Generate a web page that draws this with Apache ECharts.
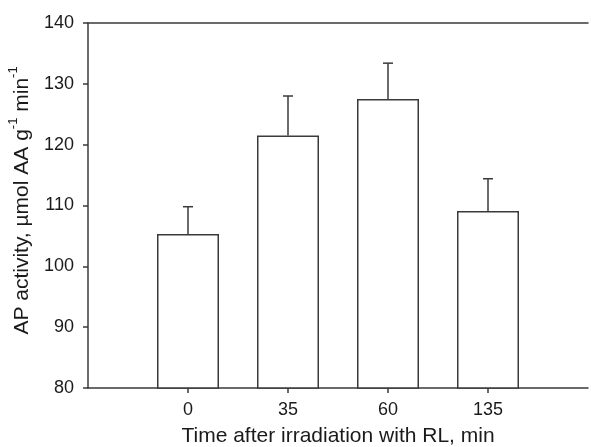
<!DOCTYPE html>
<html>
<head>
<meta charset="utf-8">
<script src="https://cdn.jsdelivr.net/npm/echarts@6/dist/echarts.min.js"></script>
<style>html,body{margin:0;padding:0;background:#fff}#c{width:591px;height:447px}</style>
</head>
<body>
<div id="c"></div>
<script>
var categories = ['0', '35', '60', '135'];
var means = [105.3, 121.5, 127.5, 109.1];
var errors = [4.5, 6.5, 5.9, 5.3];
var yTicks = [80, 90, 100, 110, 120, 130, 140];

var xData = [''].concat(categories, ['']);
var barData = [null].concat(means, [null]);
var errData = means.map(function (m, i) { return [i + 1, m, errors[i]]; });

var lineColor = '#3a3a3a';
var textColor = '#1a1a1a';
var font = 'Liberation Sans, Arial, sans-serif';

var chart = echarts.init(document.getElementById('c'));
chart.setOption({
  animation: false,
  grid: { left: 88, top: 23, right: 3, bottom: 59, containLabel: false, outerBoundsMode: 'none' },
  xAxis: [{
    type: 'category',
    data: xData,
    boundaryGap: false,
    axisLine: { lineStyle: { color: lineColor, width: 1.5 } },
    axisTick: { length: 5, lineStyle: { color: lineColor, width: 1.5 },
      interval: function (i, v) { return v !== ''; } },
    axisLabel: { color: textColor, fontSize: 18, fontFamily: font, margin: 13,
      interval: function (i, v) { return v !== ''; } },
    name: 'Time after irradiation with RL, min',
    nameLocation: 'middle',
    nameGap: 38,
    nameTextStyle: { color: textColor, fontSize: 21, fontFamily: font }
  }, {
    type: 'category',
    data: xData,
    position: 'top',
    boundaryGap: false,
    axisLine: { lineStyle: { color: lineColor, width: 1.5 } },
    axisTick: { show: false },
    axisLabel: { show: false }
  }],
  yAxis: {
    type: 'value',
    min: yTicks[0],
    max: yTicks[yTicks.length - 1],
    interval: 10,
    splitLine: { show: false },
    axisLine: { show: true, lineStyle: { color: lineColor, width: 1.5 } },
    axisTick: { show: true, length: 5, lineStyle: { color: lineColor, width: 1.5 } },
    axisLabel: { color: textColor, fontSize: 18, fontFamily: font, margin: 14 },
    name: '{n|AP activity, µmol AA g}{s|-1}{n| min}{s|-1}',
    nameLocation: 'middle',
    nameGap: 55,
    nameTextStyle: {
      fontFamily: font,
      padding: [0, 0, 0, 10],
      rich: {
        n: { fontSize: 21, color: textColor, fontFamily: font, lineHeight: 26, verticalAlign: 'bottom' },
        s: { fontSize: 13, color: textColor, fontFamily: font, lineHeight: 26, verticalAlign: 'top' }
      }
    }
  },
  series: [{
    type: 'bar',
    data: barData,
    barWidth: 62,
    itemStyle: { color: '#fff', borderColor: lineColor, borderWidth: 1.5 },
    z: 2
  }, {
    type: 'custom',
    data: errData,
    z: 3,
    renderItem: function (params, api) {
      var x = api.value(0), m = api.value(1), e = api.value(2);
      var p0 = api.coord([x, m]);
      var p1 = api.coord([x, m + e]);
      var cap = 5;
      var st = { stroke: lineColor, lineWidth: 1.5 };
      return {
        type: 'group',
        children: [
          { type: 'line', shape: { x1: p0[0], y1: p0[1], x2: p1[0], y2: p1[1] }, style: st },
          { type: 'line', shape: { x1: p1[0] - cap, y1: p1[1], x2: p1[0] + cap, y2: p1[1] }, style: st }
        ]
      };
    }
  }]
});
</script>
</body>
</html>
